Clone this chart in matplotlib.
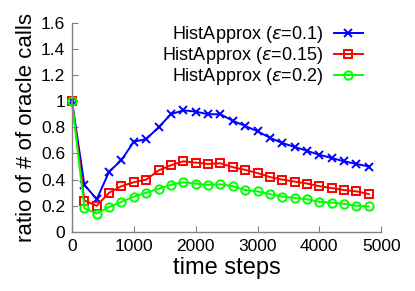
import matplotlib
matplotlib.use("Agg")
import matplotlib.pyplot as plt
from matplotlib.ticker import FuncFormatter

plt.rcParams['font.family'] = ['Liberation Sans', 'DejaVu Sans']
plt.rcParams['mathtext.fontset'] = 'dejavusans'

# --- data ---
steps = [0, 200, 400, 600, 800, 1000, 1200, 1400, 1600, 1800, 2000, 2200,
         2400, 2600, 2800, 3000, 3200, 3400, 3600, 3800, 4000, 4200, 4400, 4600, 4800]
eps_01 = [1.0, 0.36, 0.25, 0.46, 0.55, 0.69, 0.71, 0.80, 0.90, 0.93, 0.92, 0.90,
          0.90, 0.85, 0.81, 0.77, 0.72, 0.68, 0.65, 0.62, 0.59, 0.565, 0.54, 0.52, 0.50]
eps_015 = [1.0, 0.24, 0.20, 0.30, 0.35, 0.38, 0.40, 0.47, 0.51, 0.54, 0.53, 0.52,
           0.525, 0.495, 0.475, 0.45, 0.42, 0.40, 0.385, 0.37, 0.35, 0.335, 0.32, 0.31, 0.29]
eps_02 = [1.0, 0.18, 0.14, 0.19, 0.23, 0.27, 0.30, 0.33, 0.36, 0.38, 0.37, 0.36,
          0.365, 0.35, 0.32, 0.31, 0.29, 0.27, 0.26, 0.25, 0.23, 0.225, 0.215, 0.20, 0.195]

fig = plt.figure(figsize=(4.15, 2.91), dpi=100)
ax = fig.add_axes([0.1735, 0.203, 0.745, 0.719])

ax.plot(steps, eps_01, color='#0000ff', marker='x', markersize=6, markeredgewidth=1.4,
        linewidth=1.4, label=r'HistApprox ($\varepsilon$=0.1)', clip_on=False)
ax.plot(steps, eps_015, color='#ff0000', marker='s', markersize=6, markerfacecolor='none',
        markeredgewidth=1.4, linewidth=1.4, label=r'HistApprox ($\varepsilon$=0.15)', clip_on=False)
ax.plot(steps, eps_02, color='#00ff00', marker='o', markersize=6, markerfacecolor='none',
        markeredgewidth=1.4, linewidth=1.4, label=r'HistApprox ($\varepsilon$=0.2)', clip_on=False)

ax.set_xlim(0, 5000)
ax.set_ylim(0, 1.6)
ax.set_xticks(range(0, 5001, 1000))
ax.set_yticks([0, 0.2, 0.4, 0.6, 0.8, 1.0, 1.2, 1.4, 1.6])
ax.yaxis.set_major_formatter(FuncFormatter(lambda v, p: '%g' % round(v, 2)))

for s in ['top', 'right']:
    ax.spines[s].set_visible(False)
for s in ['left', 'bottom']:
    ax.spines[s].set_color('#808080')
    ax.spines[s].set_linewidth(1.0)
ax.tick_params(direction='in', length=4, color='#808080', labelsize=12.5, pad=5)

ax.set_xlabel('time steps', fontsize=17, labelpad=2)
ax.set_ylabel('ratio of # of oracle calls', fontsize=16, labelpad=3)

ax.legend(loc='upper right', bbox_to_anchor=(0.975, 1.045), frameon=False, markerfirst=False,
          fontsize=13, handlelength=1.6, handletextpad=0.6, labelspacing=0.0,
          borderaxespad=0.2)

fig.savefig('out.png', dpi=100)
